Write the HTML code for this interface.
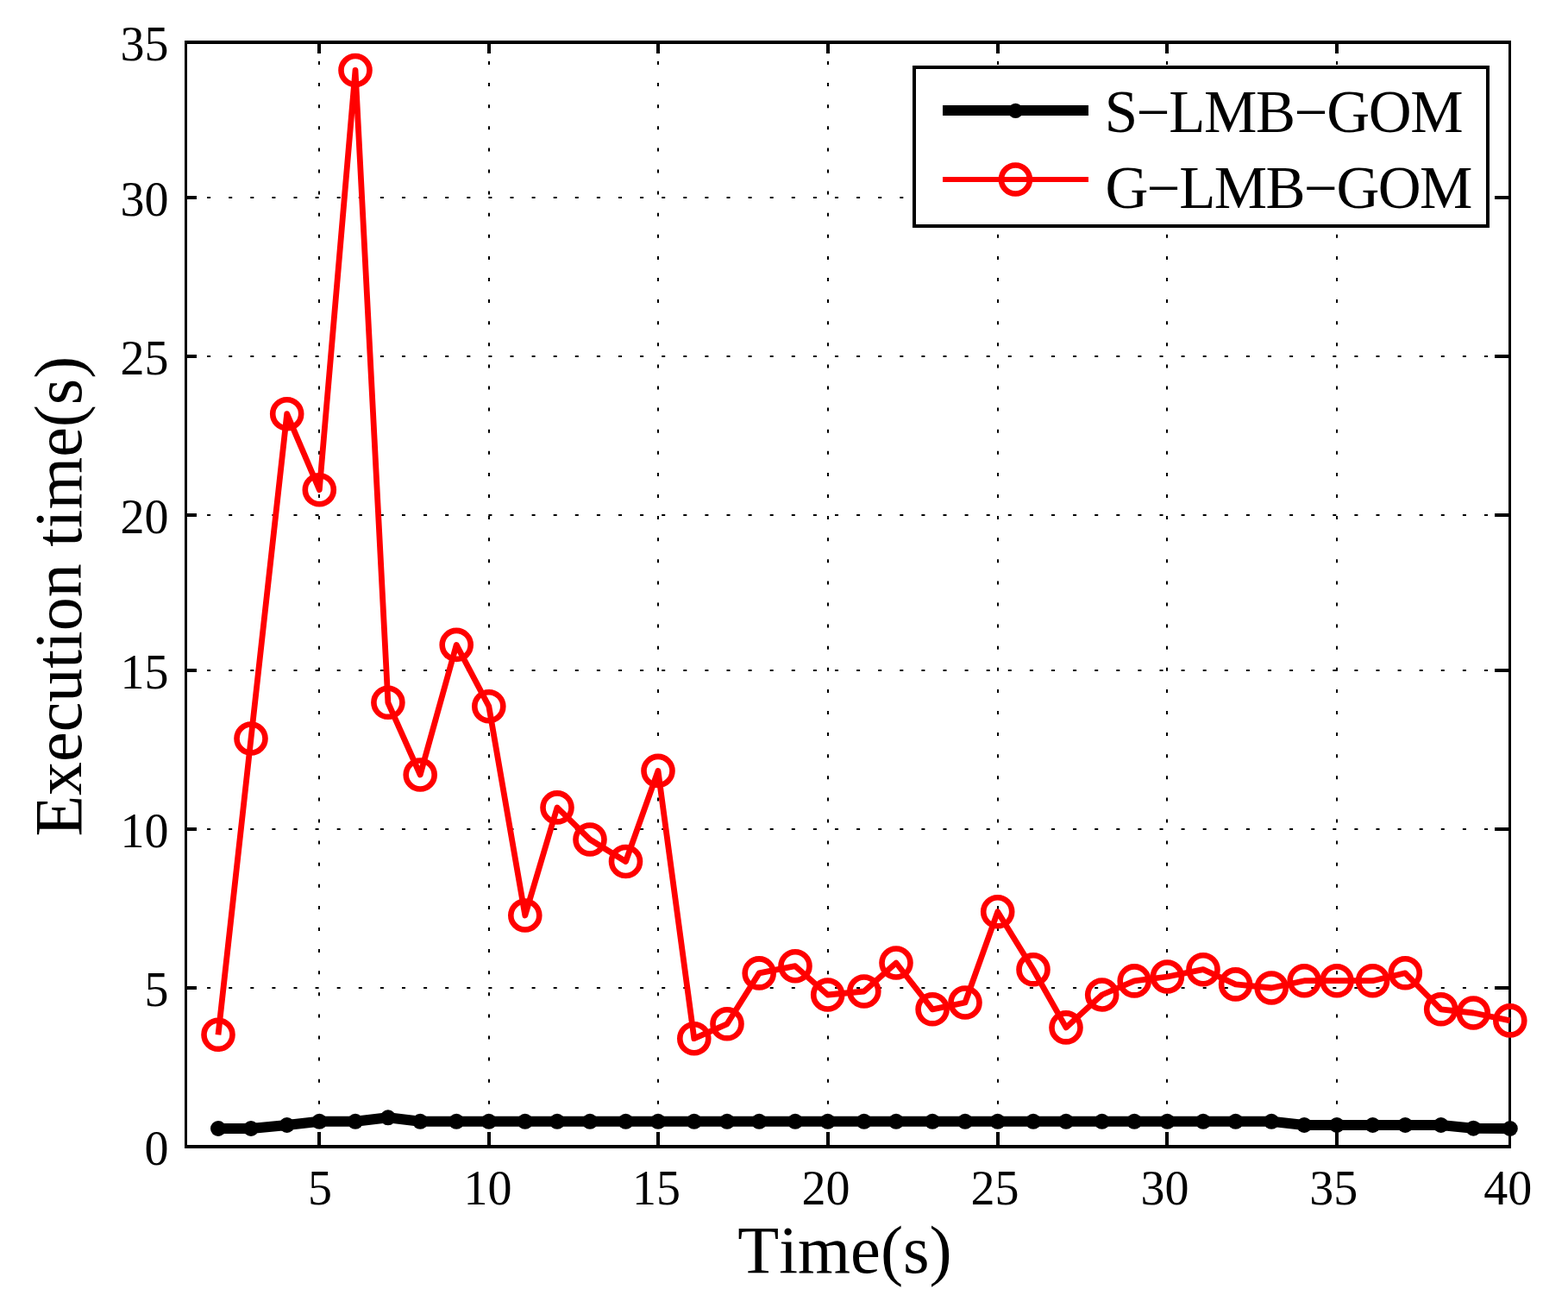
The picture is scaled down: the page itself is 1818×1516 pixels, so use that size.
<!DOCTYPE html>
<html><head><meta charset="utf-8"><title>Execution time plot</title>
<style>html,body{margin:0;padding:0;background:#fff;overflow:hidden}svg{display:block}text{font-kerning:none}</style>
</head><body>
<svg width="1818" height="1516" viewBox="0 0 1818 1516">
<rect x="0" y="0" width="1818" height="1516" fill="#fff"/>
<path d="M370 1330V49M567 1330V49M763 1330V49M960 1330V49M1157 1330V49M1353 1330V49M1550 1330V49M215.0 1145H1750.5M215.0 961H1750.5M215.0 777H1750.5M215.0 597H1750.5M215.0 413H1750.5M215.0 229H1750.5" stroke="#000" stroke-width="2" stroke-dasharray="4 21.1" fill="none"/>
<rect x="214" y="47" width="3" height="1284" fill="#000"/>
<rect x="1749" y="47" width="3" height="1284" fill="#000"/>
<rect x="214" y="47" width="1538" height="4" fill="#000"/>
<rect x="214" y="1327" width="1538" height="4" fill="#000"/>
<g fill="#000"><rect x="368" y="1312" width="4" height="15"/><rect x="368" y="51" width="4" height="11"/><rect x="565" y="1312" width="4" height="15"/><rect x="565" y="51" width="4" height="11"/><rect x="761" y="1312" width="4" height="15"/><rect x="761" y="51" width="4" height="11"/><rect x="958" y="1312" width="4" height="15"/><rect x="958" y="51" width="4" height="11"/><rect x="1155" y="1312" width="4" height="15"/><rect x="1155" y="51" width="4" height="11"/><rect x="1351" y="1312" width="4" height="15"/><rect x="1351" y="51" width="4" height="11"/><rect x="1548" y="1312" width="4" height="15"/><rect x="1548" y="51" width="4" height="11"/><rect x="217" y="1143" width="11" height="4"/><rect x="1733" y="1143" width="16" height="4"/><rect x="217" y="959" width="11" height="4"/><rect x="1733" y="959" width="16" height="4"/><rect x="217" y="775" width="11" height="4"/><rect x="1733" y="775" width="16" height="4"/><rect x="217" y="595" width="11" height="4"/><rect x="1733" y="595" width="16" height="4"/><rect x="217" y="411" width="11" height="4"/><rect x="1733" y="411" width="16" height="4"/><rect x="217" y="227" width="11" height="4"/><rect x="1733" y="227" width="16" height="4"/></g>
<polyline points="253,1199.3 291,856 332.7,479.7 370.3,567.7 412,81.5 449.9,814.3 487.2,898 529.2,747.4 566.8,818.7 608.8,1061 646,935.9 684,973 725.5,998.5 763,893.4 804.8,1203.7 843,1186.8 880.2,1127.9 922,1119.7 959.7,1153 1001.8,1149 1039,1116 1081.1,1169.8 1119,1162 1156.7,1056.8 1198,1123.8 1236,1190.9 1277.7,1153 1315.2,1136.9 1353.4,1132 1395,1123.7 1432.6,1140.9 1474.2,1145 1512.2,1136.7 1550,1136.7 1591.6,1136.7 1629.3,1127.8 1670.7,1169.8 1708.3,1174 1750.8,1182.9" fill="none" stroke="#f00" stroke-width="6.8" stroke-linejoin="round" stroke-linecap="butt"/>
<circle cx="253" cy="1199.3" r="16.5" fill="none" stroke="#f00" stroke-width="6.6"/>
<circle cx="291" cy="856" r="16.5" fill="none" stroke="#f00" stroke-width="6.6"/>
<circle cx="332.7" cy="479.7" r="16.5" fill="none" stroke="#f00" stroke-width="6.6"/>
<circle cx="370.3" cy="567.7" r="16.5" fill="none" stroke="#f00" stroke-width="6.6"/>
<circle cx="412" cy="81.5" r="16.5" fill="none" stroke="#f00" stroke-width="6.6"/>
<circle cx="449.9" cy="814.3" r="16.5" fill="none" stroke="#f00" stroke-width="6.6"/>
<circle cx="487.2" cy="898" r="16.5" fill="none" stroke="#f00" stroke-width="6.6"/>
<circle cx="529.2" cy="747.4" r="16.5" fill="none" stroke="#f00" stroke-width="6.6"/>
<circle cx="566.8" cy="818.7" r="16.5" fill="none" stroke="#f00" stroke-width="6.6"/>
<circle cx="608.8" cy="1061" r="16.5" fill="none" stroke="#f00" stroke-width="6.6"/>
<circle cx="646" cy="935.9" r="16.5" fill="none" stroke="#f00" stroke-width="6.6"/>
<circle cx="684" cy="973" r="16.5" fill="none" stroke="#f00" stroke-width="6.6"/>
<circle cx="725.5" cy="998.5" r="16.5" fill="none" stroke="#f00" stroke-width="6.6"/>
<circle cx="763" cy="893.4" r="16.5" fill="none" stroke="#f00" stroke-width="6.6"/>
<circle cx="804.8" cy="1203.7" r="16.5" fill="none" stroke="#f00" stroke-width="6.6"/>
<circle cx="843" cy="1186.8" r="16.5" fill="none" stroke="#f00" stroke-width="6.6"/>
<circle cx="880.2" cy="1127.9" r="16.5" fill="none" stroke="#f00" stroke-width="6.6"/>
<circle cx="922" cy="1119.7" r="16.5" fill="none" stroke="#f00" stroke-width="6.6"/>
<circle cx="959.7" cy="1153" r="16.5" fill="none" stroke="#f00" stroke-width="6.6"/>
<circle cx="1001.8" cy="1149" r="16.5" fill="none" stroke="#f00" stroke-width="6.6"/>
<circle cx="1039" cy="1116" r="16.5" fill="none" stroke="#f00" stroke-width="6.6"/>
<circle cx="1081.1" cy="1169.8" r="16.5" fill="none" stroke="#f00" stroke-width="6.6"/>
<circle cx="1119" cy="1162" r="16.5" fill="none" stroke="#f00" stroke-width="6.6"/>
<circle cx="1156.7" cy="1056.8" r="16.5" fill="none" stroke="#f00" stroke-width="6.6"/>
<circle cx="1198" cy="1123.8" r="16.5" fill="none" stroke="#f00" stroke-width="6.6"/>
<circle cx="1236" cy="1190.9" r="16.5" fill="none" stroke="#f00" stroke-width="6.6"/>
<circle cx="1277.7" cy="1153" r="16.5" fill="none" stroke="#f00" stroke-width="6.6"/>
<circle cx="1315.2" cy="1136.9" r="16.5" fill="none" stroke="#f00" stroke-width="6.6"/>
<circle cx="1353.4" cy="1132" r="16.5" fill="none" stroke="#f00" stroke-width="6.6"/>
<circle cx="1395" cy="1123.7" r="16.5" fill="none" stroke="#f00" stroke-width="6.6"/>
<circle cx="1432.6" cy="1140.9" r="16.5" fill="none" stroke="#f00" stroke-width="6.6"/>
<circle cx="1474.2" cy="1145" r="16.5" fill="none" stroke="#f00" stroke-width="6.6"/>
<circle cx="1512.2" cy="1136.7" r="16.5" fill="none" stroke="#f00" stroke-width="6.6"/>
<circle cx="1550" cy="1136.7" r="16.5" fill="none" stroke="#f00" stroke-width="6.6"/>
<circle cx="1591.6" cy="1136.7" r="16.5" fill="none" stroke="#f00" stroke-width="6.6"/>
<circle cx="1629.3" cy="1127.8" r="16.5" fill="none" stroke="#f00" stroke-width="6.6"/>
<circle cx="1670.7" cy="1169.8" r="16.5" fill="none" stroke="#f00" stroke-width="6.6"/>
<circle cx="1708.3" cy="1174" r="16.5" fill="none" stroke="#f00" stroke-width="6.6"/>
<circle cx="1750.8" cy="1182.9" r="16.5" fill="none" stroke="#f00" stroke-width="6.6"/>
<polyline points="253,1308 291,1308 332.7,1304 370.3,1299.8 412,1299.8 449.9,1295.3 487.2,1299.8 529.2,1299.8 566.8,1299.8 608.8,1299.8 646,1299.8 684,1299.8 725.5,1299.8 763,1299.8 804.8,1299.8 843,1299.8 880.2,1299.8 922,1299.8 959.7,1299.8 1001.8,1299.8 1039,1299.8 1081.1,1299.8 1119,1299.8 1156.7,1299.8 1198,1299.8 1236,1299.8 1277.7,1299.8 1315.2,1299.8 1353.4,1299.8 1395,1299.8 1432.6,1299.8 1474.2,1299.8 1512.2,1304 1550,1304 1591.6,1304 1629.3,1304 1670.7,1304 1708.3,1307.7 1750.8,1308" fill="none" stroke="#000" stroke-width="12" stroke-linejoin="round" stroke-linecap="butt"/>
<circle cx="253" cy="1308" r="9" fill="#000"/>
<circle cx="291" cy="1308" r="9" fill="#000"/>
<circle cx="332.7" cy="1304" r="9" fill="#000"/>
<circle cx="370.3" cy="1299.8" r="9" fill="#000"/>
<circle cx="412" cy="1299.8" r="9" fill="#000"/>
<circle cx="449.9" cy="1295.3" r="9" fill="#000"/>
<circle cx="487.2" cy="1299.8" r="9" fill="#000"/>
<circle cx="529.2" cy="1299.8" r="9" fill="#000"/>
<circle cx="566.8" cy="1299.8" r="9" fill="#000"/>
<circle cx="608.8" cy="1299.8" r="9" fill="#000"/>
<circle cx="646" cy="1299.8" r="9" fill="#000"/>
<circle cx="684" cy="1299.8" r="9" fill="#000"/>
<circle cx="725.5" cy="1299.8" r="9" fill="#000"/>
<circle cx="763" cy="1299.8" r="9" fill="#000"/>
<circle cx="804.8" cy="1299.8" r="9" fill="#000"/>
<circle cx="843" cy="1299.8" r="9" fill="#000"/>
<circle cx="880.2" cy="1299.8" r="9" fill="#000"/>
<circle cx="922" cy="1299.8" r="9" fill="#000"/>
<circle cx="959.7" cy="1299.8" r="9" fill="#000"/>
<circle cx="1001.8" cy="1299.8" r="9" fill="#000"/>
<circle cx="1039" cy="1299.8" r="9" fill="#000"/>
<circle cx="1081.1" cy="1299.8" r="9" fill="#000"/>
<circle cx="1119" cy="1299.8" r="9" fill="#000"/>
<circle cx="1156.7" cy="1299.8" r="9" fill="#000"/>
<circle cx="1198" cy="1299.8" r="9" fill="#000"/>
<circle cx="1236" cy="1299.8" r="9" fill="#000"/>
<circle cx="1277.7" cy="1299.8" r="9" fill="#000"/>
<circle cx="1315.2" cy="1299.8" r="9" fill="#000"/>
<circle cx="1353.4" cy="1299.8" r="9" fill="#000"/>
<circle cx="1395" cy="1299.8" r="9" fill="#000"/>
<circle cx="1432.6" cy="1299.8" r="9" fill="#000"/>
<circle cx="1474.2" cy="1299.8" r="9" fill="#000"/>
<circle cx="1512.2" cy="1304" r="9" fill="#000"/>
<circle cx="1550" cy="1304" r="9" fill="#000"/>
<circle cx="1591.6" cy="1304" r="9" fill="#000"/>
<circle cx="1629.3" cy="1304" r="9" fill="#000"/>
<circle cx="1670.7" cy="1304" r="9" fill="#000"/>
<circle cx="1708.3" cy="1307.7" r="9" fill="#000"/>
<circle cx="1750.8" cy="1308" r="9" fill="#000"/>
<g font-family="'Liberation Serif', 'Times New Roman', serif" font-size="56" fill="#000"><text x="195.5" y="1166" text-anchor="end">5</text><text x="195.5" y="982" text-anchor="end">10</text><text x="195.5" y="798" text-anchor="end">15</text><text x="195.5" y="618" text-anchor="end">20</text><text x="195.5" y="434" text-anchor="end">25</text><text x="195.5" y="250" text-anchor="end">30</text><text x="195.5" y="1350" text-anchor="end">0</text><text x="195.5" y="70" text-anchor="end">35</text><text x="371" y="1396" text-anchor="middle">5</text><text x="565.4" y="1396" text-anchor="middle">10</text><text x="761.1" y="1396" text-anchor="middle">15</text><text x="957.5" y="1396" text-anchor="middle">20</text><text x="1153.4" y="1396" text-anchor="middle">25</text><text x="1350.5" y="1396" text-anchor="middle">30</text><text x="1546.3" y="1396" text-anchor="middle">35</text><text x="1748.25" y="1396" text-anchor="middle">40</text></g>
<text x="979.5" y="1475" text-anchor="middle" font-family="'Liberation Serif', 'Times New Roman', serif" font-size="78.5" fill="#000">Time(s)</text>
<text transform="translate(93.8 691.2) rotate(-90)" x="0" y="0" text-anchor="middle" font-family="'Liberation Serif', 'Times New Roman', serif" font-size="78" fill="#000">Execution time(s)</text>
<rect x="1060" y="78" width="665" height="184" fill="#fff" stroke="#000" stroke-width="4"/>
<line x1="1093" y1="128" x2="1262" y2="128" stroke="#000" stroke-width="12"/>
<circle cx="1177.5" cy="128.4" r="8.6" fill="#000"/>
<line x1="1093" y1="208" x2="1262" y2="208" stroke="#f00" stroke-width="6"/>
<circle cx="1177.4" cy="208" r="16.5" fill="none" stroke="#f00" stroke-width="6.6"/>
<text x="1280.8" y="152.8" font-family="'Liberation Serif', 'Times New Roman', serif" font-size="69" fill="#000" textLength="415.8" lengthAdjust="spacing">S−LMB−GOM</text>
<text x="1281.5" y="240.8" font-family="'Liberation Serif', 'Times New Roman', serif" font-size="69" fill="#000" textLength="425.9" lengthAdjust="spacing">G−LMB−GOM</text>
</svg>
</body></html>
